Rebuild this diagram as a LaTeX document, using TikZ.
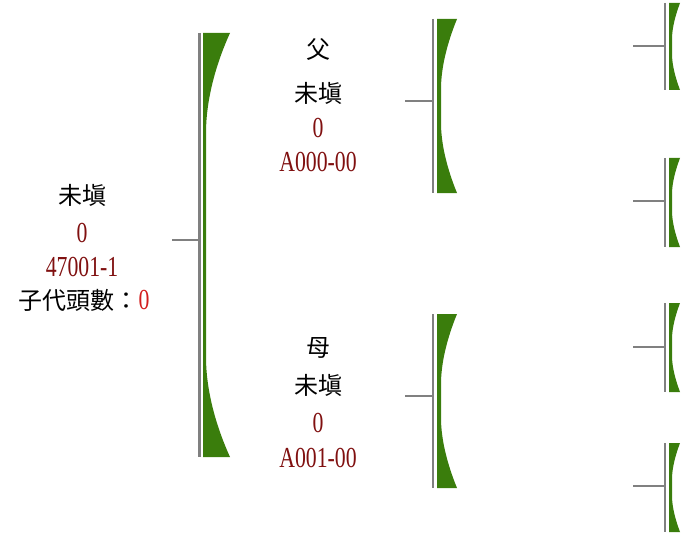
\documentclass[tikz,border=0pt]{standalone}
\usepackage{fontspec}
\newfontfamily\cjk{Noto Sans CJK TC}
\newfontfamily\numfont[FakeStretch=0.75]{Liberation Serif}
\definecolor{bargreen}{RGB}{58,125,12}
\definecolor{bargray}{RGB}{128,128,128}
\definecolor{iddark}{RGB}{128,16,16}
\definecolor{kidred}{RGB}{210,30,30}

% gray bar plus green flared bracket: x, top, bottom, flare width, flare length, strip width
\newcommand{\famsbar}[6]{%
  \fill[bargreen] (#1+4,#2) -- (#1+4+#4,#2)
    .. controls (#1+4+#6+0.3*#4,#2+0.35*#5) and (#1+4+#6,#2+0.7*#5) .. (#1+4+#6,#2+#5)
    -- (#1+4+#6,#3-#5)
    .. controls (#1+4+#6,#3-0.7*#5) and (#1+4+#6+0.3*#4,#3-0.35*#5) .. (#1+4+#4,#3)
    -- (#1+4,#3) -- cycle;
  \draw[bar] (#1,#2) -- (#1,#3);
}

\begin{document}
\begin{tikzpicture}[x=1pt,y=-1pt,
  namebox/.style={inner sep=0pt, font=\cjk\fontsize{24}{24}\selectfont},
  numbox/.style={inner sep=0pt, text=iddark, font=\numfont\fontsize{29}{29}\selectfont},
  bar/.style={draw=bargray, line width=3pt},
  stub/.style={draw=bargray, line width=2.5pt}]

  \useasboundingbox (0,0) rectangle (690,540);

  % the animal itself
  \node[namebox] (self-name) at (82,195) {未塡};
  \node[numbox] (self-no) at (82,233) {0};
  \node[numbox] (self-id) at (82,267) {47001-1};
  \node[namebox] (self-kids) at (84,300) {子代頭數：{\numfont\fontsize{29}{29}\selectfont\color{kidred}0}};

  \famsbar{199}{33}{457}{27}{100}{3}
  \coordinate (self-stub) at (172,240);
  \coordinate (self-bar) at (199,240);
  \draw[stub] (self-stub) -- (self-bar);

  % sire
  \node[namebox] (fa-role) at (318,50) {父};
  \node[namebox] (fa-name) at (318,93) {未塡};
  \node[numbox] (fa-no) at (318,128) {0};
  \node[numbox] (fa-id) at (318,162) {A000-00};

  % dam
  \node[namebox] (mo-role) at (318,348) {母};
  \node[namebox] (mo-name) at (318,385) {未塡};
  \node[numbox] (mo-no) at (318,423) {0};
  \node[numbox] (mo-id) at (318,458) {A001-00};

  \begin{scope}[bar/.style={draw=bargray, line width=2.6pt}, stub/.style={draw=bargray, line width=1.5pt}]
    \famsbar{433}{19}{193}{20}{70}{4}
    \coordinate (fa-stub) at (405,101);
    \coordinate (fa-bar) at (433,101);
    \draw[stub] (fa-stub) -- (fa-bar);

    \famsbar{433}{314}{488}{20}{70}{4}
    \coordinate (mo-stub) at (405,396);
    \coordinate (mo-bar) at (433,396);
    \draw[stub] (mo-stub) -- (mo-bar);
  \end{scope}

  % grandparents
  \begin{scope}[bar/.style={draw=bargray, line width=2pt}, stub/.style={draw=bargray, line width=1.5pt}]
    \famsbar{665}{3}{90}{11}{36}{3}
    \coordinate (gf1-stub) at (633,46);
    \coordinate (gf1-bar) at (665,46);
    \draw[stub] (gf1-stub) -- (gf1-bar);

    \famsbar{665}{158}{247}{11}{36}{3}
    \coordinate (gm1-stub) at (633,201);
    \coordinate (gm1-bar) at (665,201);
    \draw[stub] (gm1-stub) -- (gm1-bar);

    \famsbar{665}{303}{392}{11}{36}{3}
    \coordinate (gf2-stub) at (633,347);
    \coordinate (gf2-bar) at (665,347);
    \draw[stub] (gf2-stub) -- (gf2-bar);

    \famsbar{665}{443}{532}{11}{36}{3}
    \coordinate (gm2-stub) at (633,486);
    \coordinate (gm2-bar) at (665,486);
    \draw[stub] (gm2-stub) -- (gm2-bar);
  \end{scope}
\end{tikzpicture}
\end{document}
